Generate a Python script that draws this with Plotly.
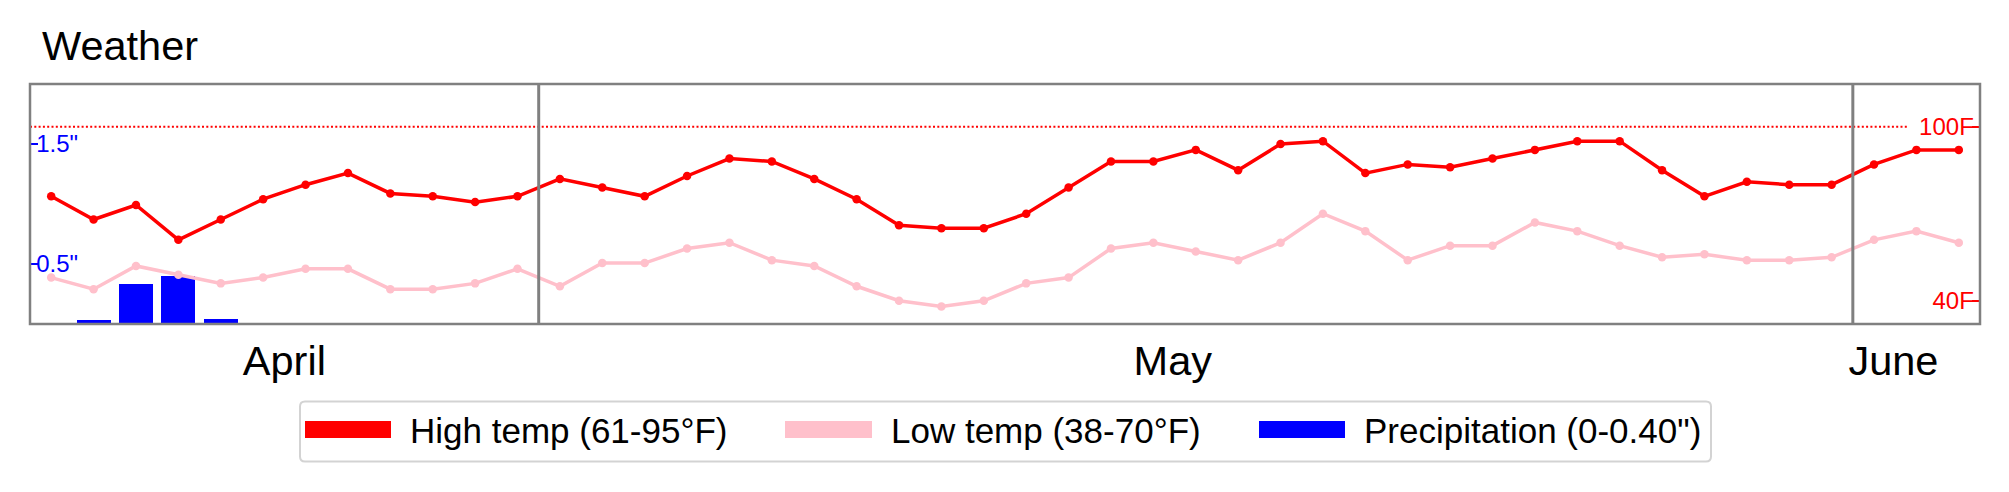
import plotly.graph_objects as go
import pandas as pd

# ---- data ----
dates = pd.date_range("2019-04-19", "2019-06-03", freq="D")
high_temp = [76, 68, 73, 61, 68, 75, 80, 84, 77, 76, 74, 76,
             82, 79, 76, 83, 89, 88, 82, 75, 66, 65, 65, 70, 79, 88, 88, 92, 85, 94, 95,
             84, 87, 86, 89, 92, 95, 95, 85, 76, 81, 80, 80,
             87, 92, 92]
low_temp = [48, 44, 52, 49, 46, 48, 51, 51, 44, 44, 46, 51,
            45, 53, 53, 58, 60, 54, 52, 45, 40, 38, 40, 46, 48, 58, 60, 57, 54, 60, 70,
            64, 54, 59, 59, 67, 64, 59, 55, 56, 54, 54, 55,
            61, 64, 60]
precip = [0, 0.03, 0.33, 0.40, 0.04, 0, 0, 0, 0, 0, 0, 0,
          0, 0, 0, 0, 0, 0, 0, 0, 0, 0, 0, 0, 0, 0, 0, 0, 0, 0, 0,
          0, 0, 0, 0, 0, 0, 0, 0, 0, 0, 0, 0,
          0, 0, 0]
month_names = ["April", "May", "June"]
month_label_pos = ["2019-04-24 12:00", "2019-05-15 11:00", "2019-06-01 11:00"]
month_bounds = ["2019-04-30 12:00", "2019-05-31 12:00"]
legend_labels = ["High temp (61-95°F)", "Low temp (38-70°F)", "Precipitation (0-0.40\")"]

RED, PINK, BLUE, GREY = "#ff0000", "#ffc0cb", "#0000ff", "#808080"
FONT = "Liberation Sans, Arial, sans-serif"

W, H = 2009, 492
OFF = 8  # page body margin
L, R, T, B = 30, 1980, 84, 324  # plot area in screen pixels


def X(px):
    return (px - L) / (R - L)


def Y(py):
    return (B - py) / (B - T)


fig = go.Figure()
fig.add_trace(go.Bar(x=dates, y=precip, marker_color=BLUE, marker_line_width=0,
                     width=0.8 * 86400000, yaxis="y", showlegend=False,
                     name=legend_labels[2]))
fig.add_trace(go.Scatter(x=dates, y=low_temp, mode="lines+markers", yaxis="y2",
                         line=dict(color=PINK, width=3.5), marker=dict(color=PINK, size=8.5),
                         showlegend=False, name=legend_labels[1]))
fig.add_trace(go.Scatter(x=dates, y=high_temp, mode="lines+markers", yaxis="y2",
                         line=dict(color=RED, width=3.5), marker=dict(color=RED, size=8.5),
                         showlegend=False, name=legend_labels[0]))

shapes = []
# 100F reference line
shapes.append(dict(type="line", xref="paper", yref="y2", x0=0, x1=X(1909), y0=100, y1=100,
                   line=dict(color=RED, width=2, dash="2px,2.3px"), layer="below"))
# month boundaries
for mb in month_bounds:
    shapes.append(dict(type="line", xref="x", yref="paper", x0=mb, x1=mb, y0=0, y1=1,
                       line=dict(color=GREY, width=3), layer="above"))
# plot border
shapes.append(dict(type="rect", xref="paper", yref="paper", x0=0, x1=1, y0=0, y1=1,
                   line=dict(color=GREY, width=2.5), layer="above"))

# ---- manual legend ----
bx0, bx1, by0, by1 = 300, 1711, 401.5, 461.5
r = 5
rx, ry = r / (R - L), r / (B - T)
x0p, x1p, y0p, y1p = X(bx0), X(bx1), Y(by1), Y(by0)
path = (f"M{x0p + rx},{y0p} L{x1p - rx},{y0p} Q{x1p},{y0p} {x1p},{y0p + ry} "
        f"L{x1p},{y1p - ry} Q{x1p},{y1p} {x1p - rx},{y1p} "
        f"L{x0p + rx},{y1p} Q{x0p},{y1p} {x0p},{y1p - ry} "
        f"L{x0p},{y0p + ry} Q{x0p},{y0p} {x0p + rx},{y0p} Z")
shapes.append(dict(type="path", xref="paper", yref="paper", path=path,
                   line=dict(color="#d3d3d3", width=2), fillcolor="white", layer="above"))

swatches = [(305, 391, RED), (785, 872, PINK), (1259, 1345, BLUE)]
text_x = [409, 890, 1362.5]
annotations = []
for (sx0, sx1, col), tx, lab in zip(swatches, text_x, legend_labels):
    shapes.append(dict(type="rect", xref="paper", yref="paper", x0=X(sx0), x1=X(sx1),
                       y0=Y(438), y1=Y(421), fillcolor=col, line=dict(width=0), layer="above"))
    annotations.append(dict(xref="paper", yref="paper", x=X(tx), y=Y(430), text=lab,
                            showarrow=False, xanchor="left", yanchor="middle", borderpad=0,
                            font=dict(family=FONT, size=35, color="black")))

# title
annotations.append(dict(xref="paper", yref="paper", x=X(41), y=Y(46), text="Weather",
                        showarrow=False, xanchor="left", yanchor="middle", borderpad=0,
                        font=dict(family=FONT, size=41.5, color="black")))

fig.update_layout(
    width=W, height=H,
    margin=dict(l=L - OFF, r=W - (R - OFF), t=T - OFF, b=H - (B - OFF), pad=0),
    paper_bgcolor="white", plot_bgcolor="white",
    font=dict(family=FONT),
    showlegend=False,
    bargap=0,
    shapes=shapes,
    annotations=annotations,
    xaxis=dict(range=["2019-04-18 12:00", "2019-06-03 12:00"], type="date",
               tickvals=month_label_pos, ticktext=month_names,
               tickfont=dict(family=FONT, size=41.5, color="black"),
               ticks="", ticklabelstandoff=8, showgrid=False, zeroline=False,
               showline=False, automargin=False, fixedrange=True),
    yaxis=dict(range=[0, 2], tickvals=[0.5, 1.5], ticktext=['0.5"', '1.5"'],
               tickfont=dict(family=FONT, size=24, color=BLUE),
               ticks="inside", ticklen=8, tickwidth=2, tickcolor=BLUE,
               ticklabelposition="inside", showgrid=False, zeroline=False,
               showline=False, automargin=False, side="left"),
    yaxis2=dict(range=[32, 114.7], tickvals=[40, 100], ticktext=["40F", "100F"],
                tickfont=dict(family=FONT, size=24, color=RED),
                ticks="inside", ticklen=8, tickwidth=2, tickcolor=RED,
                ticklabelposition="inside", showgrid=False, zeroline=False,
                showline=False, automargin=False, side="right", overlaying="y"),
)

fig.write_html("out.html")
